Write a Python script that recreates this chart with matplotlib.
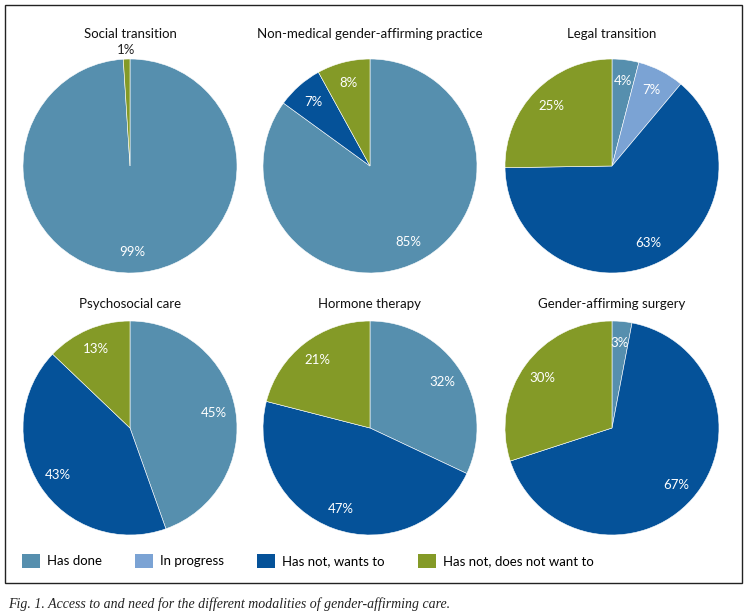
import matplotlib
matplotlib.use("Agg")
import matplotlib.pyplot as plt
from matplotlib.patches import Patch, Rectangle

plt.rcParams["font.family"] = ["Lato", "DejaVu Sans"]

# data (percent of respondents)
titles = [
    "Social transition",
    "Non-medical gender-affirming practice",
    "Legal transition",
    "Psychosocial care",
    "Hormone therapy",
    "Gender-affirming surgery",
]
categories = ["Has done", "In progress", "Has not, wants to", "Has not, does not want to"]
has_done = [99, 85, 4, 45, 32, 3]
in_progress = [0, 0, 7, 0, 0, 0]
wants_to = [0, 7, 63, 43, 47, 67]
not_want = [1, 8, 25, 13, 21, 30]

colors = ["#568fae", "#7ba3d4", "#055299", "#849a27"]

W, H = 746, 614
fig = plt.figure(figsize=(W / 100, H / 100), dpi=100)

# outer frame
fig.add_artist(Rectangle((5 / W, 1 - 583 / H), 737 / W, 578 / H,
                         transform=fig.transFigure, fill=False,
                         edgecolor="#222222", lw=1.0))

centers_x = [130, 370, 612]
centers_y = [166, 428]
title_y = [34, 304]
radius = 107

for i, title in enumerate(titles):
    cx = centers_x[i % 3]
    cy = centers_y[i // 3]
    ax = fig.add_axes([(cx - radius) / W, 1 - (cy + radius) / H,
                       2 * radius / W, 2 * radius / H])
    vals = [has_done[i], in_progress[i], wants_to[i], not_want[i]]
    keep = [(v, c) for v, c in zip(vals, colors) if v > 0]
    v_kept = [k[0] for k in keep]
    wedges, _, autotexts = ax.pie(
        v_kept, colors=[k[1] for k in keep], startangle=90, counterclock=False,
        autopct="%d", pctdistance=0.8, radius=1,
        wedgeprops=dict(edgecolor="white", linewidth=0.4),
        textprops=dict(color="white", fontsize=9.5))
    for t, v in zip(autotexts, v_kept):
        t.set_text(f"{v}%")
        if v < 2:
            # tiny slice: label sits just outside the pie
            x, y = t.get_position()
            t.set_position((x * 1.35, y * 1.35))
            t.set_color("#222222")
    ax.set_xlim(-1, 1)
    ax.set_ylim(-1, 1)
    ax.set_aspect("equal")
    fig.text(cx / W, 1 - title_y[i // 3] / H, title, ha="center", va="center",
             fontsize=9.5, color="#111111")

handles = [Patch(facecolor=c, edgecolor="none") for c in colors]
fig.legend(handles, categories, loc="center left", bbox_to_anchor=(17 / W, 1 - 561 / H),
           ncol=4, frameon=False, fontsize=9.5, handlelength=1.35, handleheight=1.25,
           handletextpad=0.55, columnspacing=2.5, borderaxespad=0)

fig.text(8 / W, 1 - 604 / H,
         "Fig. 1. Access to and need for the different modalities of gender-affirming care.",
         ha="left", va="center", fontsize=10, style="italic",
         family="Liberation Serif", color="#222222")

fig.savefig("out.png", dpi=100)
